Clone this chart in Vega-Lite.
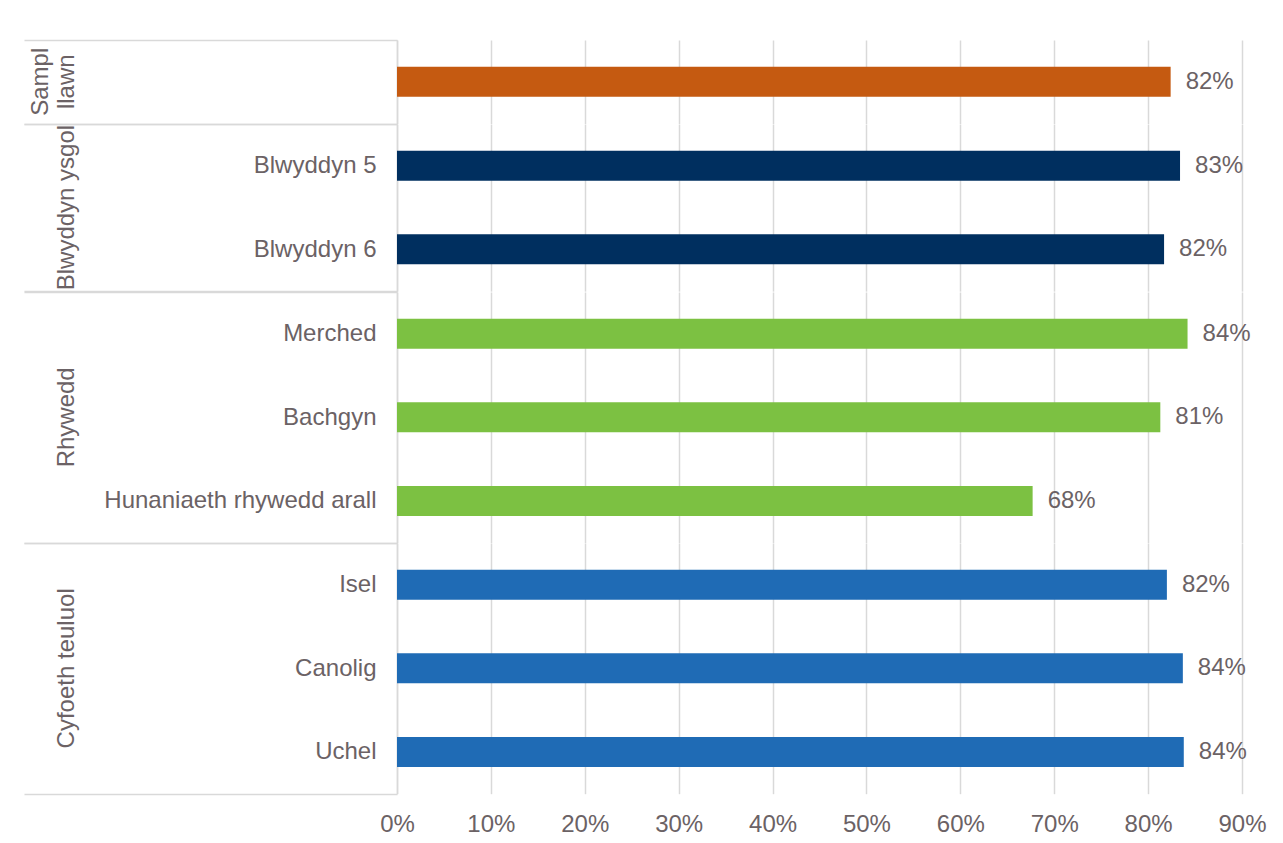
{
  "$schema": "https://vega.github.io/schema/vega-lite/v6.json",
  "autosize": {"type": "pad"},
  "padding": {"left": 23, "top": 28, "right": 0, "bottom": 0},
  "background": "white",
  "bounds": "flush",
  "data": {
    "values": [
      {"group": "Sampl llawn", "category": "Sampl llawn", "value": 0.824},
      {"group": "Blwyddyn ysgol", "category": "Blwyddyn 5", "value": 0.834},
      {"group": "Blwyddyn ysgol", "category": "Blwyddyn 6", "value": 0.817},
      {"group": "Rhywedd", "category": "Merched", "value": 0.842},
      {"group": "Rhywedd", "category": "Bachgyn", "value": 0.813},
      {"group": "Rhywedd", "category": "Hunaniaeth rhywedd arall", "value": 0.677},
      {"group": "Cyfoeth teuluol", "category": "Isel", "value": 0.82},
      {"group": "Cyfoeth teuluol", "category": "Canolig", "value": 0.837},
      {"group": "Cyfoeth teuluol", "category": "Uchel", "value": 0.838}
    ]
  },
  "facet": {
    "row": {
      "field": "group",
      "type": "nominal",
      "sort": ["Sampl llawn", "Blwyddyn ysgol", "Rhywedd", "Cyfoeth teuluol"],
      "header": {
        "title": null,
        "labelOrient": "left",
        "labelAngle": -90,
        "labelAlign": "center",
        "labelBaseline": "bottom",
        "labelFont": "Liberation Sans",
        "labelFontSize": 24,
        "labelColor": "#6B6265",
        "labelPadding": 294,
        "labelExpr": "datum.value == 'Sampl llawn' ? ['Sampl', 'llawn'] : datum.value"
      }
    }
  },
  "spacing": {"row": 0},
  "resolve": {"scale": {"y": "independent"}},
  "spec": {
    "width": 845,
    "height": {"step": 83.56},
    "encoding": {
      "y": {
        "field": "category",
        "type": "nominal",
        "sort": ["Sampl llawn", "Blwyddyn 5", "Blwyddyn 6", "Merched", "Bachgyn", "Hunaniaeth rhywedd arall", "Isel", "Canolig", "Uchel"],
        "scale": {"paddingInner": 0, "paddingOuter": 0},
        "axis": {
          "title": null,
          "labelFont": "Liberation Sans",
          "labelFontSize": 24,
          "labelColor": "#6B6265",
          "labelPadding": -352,
          "labelLimit": 0,
          "labelExpr": "datum.value == 'Sampl llawn' ? '' : datum.value",
          "tickBand": "extent",
          "tickSize": 373,
          "tickColor": "#D9D9D9",
          "tickWidth": 1.5,
          "tickOpacity": {"condition": {"test": "datum.index < 0 || datum.index == 1 || datum.value == 'Sampl llawn'", "value": 1}, "value": 0},
          "domainColor": "#D9D9D9",
          "domainWidth": 1.5
        }
      },
      "x": {
        "field": "value",
        "type": "quantitative",
        "scale": {"domain": [0, 0.9], "nice": false},
        "axis": {
          "title": null,
          "format": ".0%",
          "values": [0, 0.1, 0.2, 0.3, 0.4, 0.5, 0.6, 0.7, 0.8, 0.9],
          "domain": false,
          "ticks": false,
          "grid": true,
          "gridColor": "#D9D9D9",
          "gridWidth": 1.5,
          "labelFlush": false,
          "labelFont": "Liberation Sans",
          "labelFontSize": 24,
          "labelColor": "#6B6265",
          "labelPadding": 18
        }
      }
    },
    "layer": [
      {
        "mark": {"type": "bar", "size": 30},
        "encoding": {
          "color": {
            "field": "group",
            "type": "nominal",
            "scale": {
              "domain": ["Sampl llawn", "Blwyddyn ysgol", "Rhywedd", "Cyfoeth teuluol"],
              "range": ["#C55A11", "#002F5F", "#7CC142", "#1F6BB5"]
            },
            "legend": null
          }
        }
      },
      {
        "mark": {"type": "text", "align": "left", "baseline": "middle", "dx": 15, "font": "Liberation Sans", "fontSize": 24, "color": "#6B6265"},
        "encoding": {
          "text": {"field": "value", "type": "quantitative", "format": ".0%"}
        }
      }
    ]
  },
  "config": {
    "view": {"stroke": null}
  }
}
